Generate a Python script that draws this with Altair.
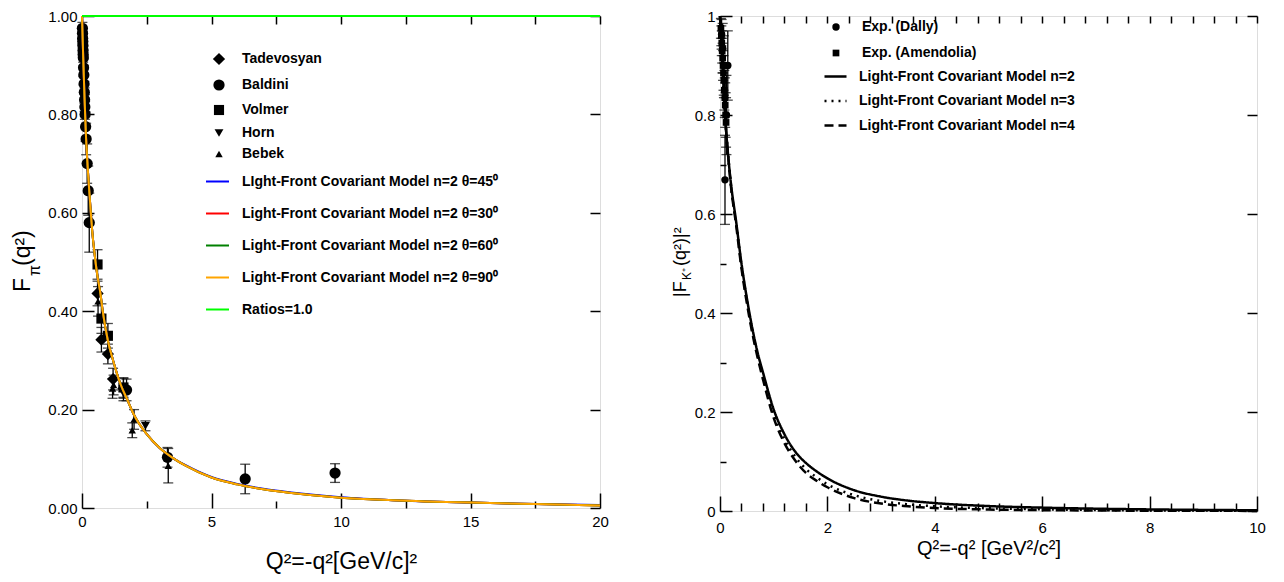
import altair as alt
import pandas as pd

FONT = "Liberation Sans"

# ---------------- left panel: pion form factor ----------------
tad_q = [0.60, 0.75, 1.00, 1.20, 1.60]
tad_f = [0.436, 0.342, 0.313, 0.262, 0.243]
tad_e = [0.025, 0.025, 0.020, 0.022, 0.020]

bal_q = [0.015, 0.02, 0.025, 0.03, 0.035, 0.04, 0.045, 0.05, 0.06, 0.07, 0.08, 0.09, 0.10,
         0.11, 0.12, 0.14, 0.16, 0.20, 0.24, 0.28, 1.72, 3.30, 6.30, 9.77]
bal_f = [0.975, 0.965, 0.955, 0.948, 0.94, 0.93, 0.922, 0.915, 0.895, 0.88, 0.862, 0.845, 0.83,
         0.815, 0.80, 0.775, 0.75, 0.70, 0.645, 0.58, 0.24, 0.103, 0.059, 0.071]
bal_e = [0.012, 0.012, 0.013, 0.014, 0.015, 0.015, 0.016, 0.017, 0.018, 0.02, 0.02, 0.022, 0.024,
         0.025, 0.026, 0.03, 0.032, 0.04, 0.05, 0.06, 0.022, 0.02, 0.03, 0.019]

vol_q = [0.60, 0.75, 1.00, 1.60]
vol_f = [0.495, 0.385, 0.350, 0.245]
vol_e = [0.030, 0.030, 0.025, 0.020]

horn_q = [1.60, 2.45]
horn_f = [0.233, 0.167]
horn_e = [0.015, 0.010]

beb_q = [0.62, 1.18, 1.22, 1.94, 2.01, 3.33]
beb_f = [0.420, 0.243, 0.250, 0.158, 0.180, 0.086]
beb_e = [0.030, 0.020, 0.020, 0.015, 0.020, 0.035]

curve_q = [0, 0.05, 0.1, 0.15, 0.2, 0.3, 0.4, 0.5, 0.6, 0.7, 0.8, 1.0, 1.2, 1.5, 1.75, 2.0,
           2.5, 3.0, 3.5, 4.0, 5.0, 6.0, 7.0, 8.0, 10.0, 12.0, 15.0, 17.5, 20.0]
th45_f = [1.0, 0.91, 0.83, 0.76, 0.71, 0.63, 0.56, 0.51, 0.47, 0.44, 0.40, 0.34, 0.30, 0.25, 0.22,
          0.19, 0.15, 0.122, 0.102, 0.087, 0.063, 0.049, 0.039, 0.032, 0.022, 0.016, 0.011, 0.008, 0.006]
th30_f = [1.0, 0.91, 0.83, 0.76, 0.71, 0.63, 0.56, 0.51, 0.47, 0.44, 0.40, 0.34, 0.30, 0.25, 0.22,
          0.19, 0.15, 0.122, 0.102, 0.086, 0.062, 0.048, 0.038, 0.031, 0.021, 0.016, 0.011, 0.008, 0.005]
th60_f = [1.0, 0.91, 0.83, 0.76, 0.71, 0.63, 0.56, 0.51, 0.47, 0.44, 0.40, 0.34, 0.30, 0.25, 0.22,
          0.19, 0.15, 0.122, 0.102, 0.086, 0.062, 0.048, 0.038, 0.031, 0.021, 0.016, 0.011, 0.008, 0.005]
th90_f = [1.0, 0.91, 0.83, 0.76, 0.71, 0.63, 0.56, 0.51, 0.47, 0.44, 0.40, 0.34, 0.30, 0.25, 0.22,
          0.19, 0.15, 0.122, 0.102, 0.086, 0.062, 0.048, 0.038, 0.031, 0.021, 0.016, 0.011, 0.008, 0.005]
ratio_q = [0.0, 20.0]
ratio_f = [1.0, 1.0]

exp_names = ["Tadevosyan", "Baldini", "Volmer", "Horn", "Bebek"]
model_names = ["LIght-Front Covariant Model n=2 θ=45⁰",
               "Light-Front Covariant Model n=2 θ=30⁰",
               "Light-Front Covariant Model n=2 θ=60⁰",
               "Light-Front Covariant Model n=2 θ=90⁰",
               "Ratios=1.0"]

# ---------------- right panel: kaon form factor ----------------
dally_q = [0.030, 0.050, 0.070, 0.093, 0.120, 0.145]
dally_f = [0.963, 0.935, 0.900, 0.669, 0.800, 0.900]
dally_e = [0.030, 0.050, 0.060, 0.090, 0.080, 0.070]

amen_q = [0.017, 0.025, 0.033, 0.041, 0.049, 0.057, 0.065, 0.073, 0.081, 0.089, 0.097, 0.105, 0.113]
amen_f = [0.975, 0.960, 0.945, 0.930, 0.915, 0.900, 0.885, 0.870, 0.850, 0.835, 0.820, 0.800, 0.785]
amen_e = [0.020, 0.020, 0.025, 0.025, 0.030, 0.030, 0.035, 0.035, 0.040, 0.040, 0.045, 0.045, 0.050]

k_q = [0, 0.05, 0.1, 0.15, 0.2, 0.3, 0.4, 0.5, 0.6, 0.7, 0.8, 1.0, 1.2, 1.4, 1.6, 1.8, 2.0,
       2.5, 3.0, 3.5, 4.0, 5.0, 6.0, 7.0, 8.0, 9.0, 10.0]
n2_f = [1.0, 0.89, 0.79, 0.72, 0.665, 0.585, 0.50, 0.43, 0.37, 0.32, 0.28, 0.205, 0.155, 0.12,
        0.097, 0.080, 0.066, 0.042, 0.029, 0.021, 0.016, 0.0100, 0.0068, 0.0047, 0.0032, 0.0022, 0.0015]
n3_f = [1.0, 0.89, 0.79, 0.72, 0.663, 0.582, 0.496, 0.426, 0.366, 0.315, 0.272, 0.195, 0.145, 0.11,
        0.085, 0.068, 0.054, 0.032, 0.020, 0.0135, 0.0095, 0.0055, 0.0035, 0.002, 0.0012, 0.0008, 0.0005]
n4_f = [1.0, 0.89, 0.79, 0.72, 0.66, 0.578, 0.49, 0.42, 0.36, 0.31, 0.266, 0.188, 0.137, 0.102,
        0.077, 0.061, 0.048, 0.026, 0.015, 0.0095, 0.006, 0.003, 0.0017, 0.001, 0.0006, 0.0004, 0.0002]

k_exp_names = ["Exp. (Dally)", "Exp. (Amendolia)"]
k_model_names = ["Light-Front Covariant Model n=2",
                 "Light-Front Covariant Model n=3",
                 "Light-Front Covariant Model n=4"]


def pts(name, q, f, e, field):
    return pd.DataFrame({"Q2": q, "F": f,
                         "lo": [a - b for a, b in zip(f, e)],
                         "hi": [a + b for a, b in zip(f, e)],
                         field: name})


def curve(name, q, f, field):
    return pd.DataFrame({"Q2": q, "F": f, field: name})


ptsL = pd.concat([pts(exp_names[0], tad_q, tad_f, tad_e, "exp"),
                  pts(exp_names[1], bal_q, bal_f, bal_e, "exp"),
                  pts(exp_names[2], vol_q, vol_f, vol_e, "exp"),
                  pts(exp_names[3], horn_q, horn_f, horn_e, "exp"),
                  pts(exp_names[4], beb_q, beb_f, beb_e, "exp")], ignore_index=True)
curvesL = pd.concat([curve(model_names[0], curve_q, th45_f, "model"),
                     curve(model_names[1], curve_q, th30_f, "model"),
                     curve(model_names[2], curve_q, th60_f, "model"),
                     curve(model_names[3], curve_q, th90_f, "model"),
                     curve(model_names[4], ratio_q, ratio_f, "model")], ignore_index=True)

ptsR = pd.concat([pts(k_exp_names[0], dally_q, dally_f, dally_e, "kexp"),
                  pts(k_exp_names[1], amen_q, amen_f, amen_e, "kexp")], ignore_index=True)
curvesR = pd.concat([curve(k_model_names[0], k_q, n2_f, "kmodel"),
                     curve(k_model_names[1], k_q, n3_f, "kmodel"),
                     curve(k_model_names[2], k_q, n4_f, "kmodel")], ignore_index=True)


def tick_axis(orient, values, size):
    return alt.Axis(orient=orient, values=values, tickSize=size, offset=-size,
                    labels=False, domain=False, grid=False, title=None,
                    ticks=True, tickColor="black", tickWidth=1.5)


def label_axis(orient, values, fmt, title=None, title_size=20, title_pad=10, lab_pad=6):
    kw = dict(orient=orient, values=values, format=fmt, ticks=False, domain=False, grid=False,
              labelFont=FONT, labelFontSize=15, labelColor="black", labelPadding=lab_pad,
              labelFlush=False)
    if title is None:
        kw["title"] = None
    else:
        kw.update(title=title, titleFont=FONT, titleFontSize=title_size, titleFontWeight="normal",
                  titleColor="black", titlePadding=title_pad)
    return alt.Axis(**kw)


def txt(s, x, y, size):
    return alt.Chart(pd.DataFrame({"t": [s]})).mark_text(
        angle=270, align="left", baseline="alphabetic", font=FONT, fontSize=size, color="black"
    ).encode(text="t:N", x=alt.value(x), y=alt.value(y))


# ---------------- left chart ----------------
WL, HL = 518, 492
xL = alt.Scale(domain=[0, 20], nice=False, zero=False)
yL = alt.Scale(domain=[0, 1], nice=False, zero=False)
xL_major = [0, 5, 10, 15, 20]
xL_minor = [2.5, 7.5, 12.5, 17.5]
xL_top = [2.5 * i for i in range(0, 9)]
yL_major = [0, 0.2, 0.4, 0.6, 0.8, 1.0]

legL_pts = alt.Legend(orient="none", legendX=130, legendY=36, title=None, labelFont=FONT,
                      labelFontSize=14, labelFontWeight="bold", labelColor="black",
                      labelOffset=16, rowPadding=7, labelLimit=600)
legL_lines = alt.Legend(orient="none", legendX=123, legendY=153, title=None, labelFont=FONT,
                        labelFontSize=14, labelFontWeight="bold", labelColor="black",
                        labelOffset=12, rowPadding=12, labelLimit=600, symbolType="stroke",
                        symbolSize=529)

baseL = alt.Chart(ptsL)
barsL = baseL.mark_rule(color="black", strokeWidth=1.3).encode(
    x=alt.X("Q2:Q", scale=xL, axis=label_axis("bottom", xL_major, "d", "Q²=-q²[GeV/c]²", 23, 21, 6)),
    y=alt.Y("lo:Q", scale=yL, axis=label_axis("left", yL_major, ".2f", None, lab_pad=5)),
    y2="hi:Q")
capsL = baseL.transform_fold(["lo", "hi"], as_=["end", "yv"]).mark_tick(
    color="black", orient="horizontal", size=10, thickness=1.3).encode(
    x=alt.X("Q2:Q", scale=xL, axis=tick_axis("bottom", xL_major, 15)),
    y=alt.Y("yv:Q", scale=yL, axis=tick_axis("left", yL_major, 12)))
pointsL = baseL.mark_point(filled=True, opacity=1, color="black").encode(
    x=alt.X("Q2:Q", scale=xL, axis=tick_axis("bottom", xL_minor, 7)),
    y=alt.Y("F:Q", scale=yL, axis=tick_axis("right", yL_major, 10)),
    shape=alt.Shape("exp:N", scale=alt.Scale(domain=exp_names,
                    range=["diamond", "circle", "square", "triangle-down", "triangle-up"]),
                    legend=legL_pts),
    size=alt.Size("exp:N", scale=alt.Scale(domain=exp_names, range=[150, 55, 42, 75, 85]),
                  legend=legL_pts))
linesL = alt.Chart(curvesL).mark_line(interpolate="monotone").encode(
    x=alt.X("Q2:Q", scale=xL, axis=tick_axis("top", xL_top, 8)),
    y=alt.Y("F:Q", scale=yL, axis=None),
    color=alt.Color("model:N", scale=alt.Scale(domain=model_names,
                    range=["#0000ff", "#ff0000", "#008000", "#ffa500", "#00ff00"]),
                    legend=legL_lines),
    strokeWidth=alt.StrokeWidth("model:N", scale=alt.Scale(domain=model_names,
                                range=[2, 2, 2, 2, 4.5]), legend=legL_lines))

left = alt.layer(
    barsL, capsL, pointsL, linesL,
    txt("F", -52, 276, 23), txt("π", -42, 260, 16), txt("(q²)", -52, 250, 23),
).resolve_axis(x="independent", y="independent").properties(width=WL, height=HL)

# ---------------- right chart ----------------
WR, HR = 537, 495
xR = alt.Scale(domain=[0, 10], nice=False, zero=False)
yR = alt.Scale(domain=[0, 1], nice=False, zero=False)
xR_major = [0, 2, 4, 6, 8, 10]
xR_minor = [round(0.4 * i, 1) for i in range(1, 25) if i % 5 != 0]
xR_top = [round(0.4 * i, 1) for i in range(0, 26)]
yR_major = [0, 0.2, 0.4, 0.6, 0.8, 1.0]
yR_minor = [0.1, 0.3, 0.5, 0.7, 0.9]

legR_pts = alt.Legend(orient="none", legendX=109, legendY=4, title=None, labelFont=FONT,
                      labelFontSize=14, labelFontWeight="bold", labelColor="black",
                      labelOffset=19, rowPadding=12, labelLimit=600)
legR_lines = alt.Legend(orient="none", legendX=103, legendY=48, title=None, labelFont=FONT,
                        labelFontSize=14, labelFontWeight="bold", labelColor="black",
                        labelOffset=11, rowPadding=4.5, labelLimit=600, symbolType="stroke",
                        symbolSize=484, symbolStrokeColor="black", symbolStrokeWidth=2.5)

baseR = alt.Chart(ptsR)
barsR = baseR.mark_rule(color="black", strokeWidth=1.3).encode(
    x=alt.X("Q2:Q", scale=xR, axis=label_axis("bottom", xR_major, "d", "Q²=-q² [GeV²/c²]", 20, 3, 9)),
    y=alt.Y("lo:Q", scale=yR, axis=label_axis("left", yR_major, ".1~f", None, lab_pad=5)),
    y2="hi:Q")
capsR = baseR.transform_fold(["lo", "hi"], as_=["end", "yv"]).mark_tick(
    color="black", orient="horizontal", size=10, thickness=1.3).encode(
    x=alt.X("Q2:Q", scale=xR, axis=tick_axis("bottom", xR_major, 15)),
    y=alt.Y("yv:Q", scale=yR, axis=tick_axis("left", yR_major, 12)))
pointsR = baseR.mark_point(filled=True, opacity=1, color="black").encode(
    x=alt.X("Q2:Q", scale=xR, axis=tick_axis("bottom", xR_minor, 8)),
    y=alt.Y("F:Q", scale=yR, axis=tick_axis("left", yR_minor, 6)),
    shape=alt.Shape("kexp:N", scale=alt.Scale(domain=k_exp_names, range=["circle", "square"]),
                    legend=legR_pts),
    size=alt.Size("kexp:N", scale=alt.Scale(domain=k_exp_names, range=[55, 45]),
                  legend=legR_pts))
linesR = alt.Chart(curvesR).mark_line(interpolate="monotone", color="black", strokeWidth=2.5).encode(
    x=alt.X("Q2:Q", scale=xR, axis=tick_axis("top", xR_top, 7)),
    y=alt.Y("F:Q", scale=yR, axis=tick_axis("right", yR_major, 10)),
    strokeDash=alt.StrokeDash("kmodel:N", scale=alt.Scale(domain=k_model_names,
                              range=[[1, 0], [2, 5], [9, 5]]), legend=legR_lines))

right = alt.layer(
    barsR, capsR, pointsR, linesR,
    txt("|F", -34, 281, 18), txt("K⁺", -29, 264, 12), txt("(q²)|²", -34, 250, 18),
).resolve_axis(x="independent", y="independent").properties(width=WR, height=HR)

chart = alt.hconcat(left, right, spacing=62).resolve_scale(
    shape="independent", size="independent", color="independent",
    strokeWidth="independent", strokeDash="independent"
).properties(
    padding={"left": 3, "top": 0, "right": 0, "bottom": 0}
).configure_view(stroke="black", strokeWidth=2).configure(background="white")

chart.save("out.html", embed_options={"renderer": "svg", "actions": False})
